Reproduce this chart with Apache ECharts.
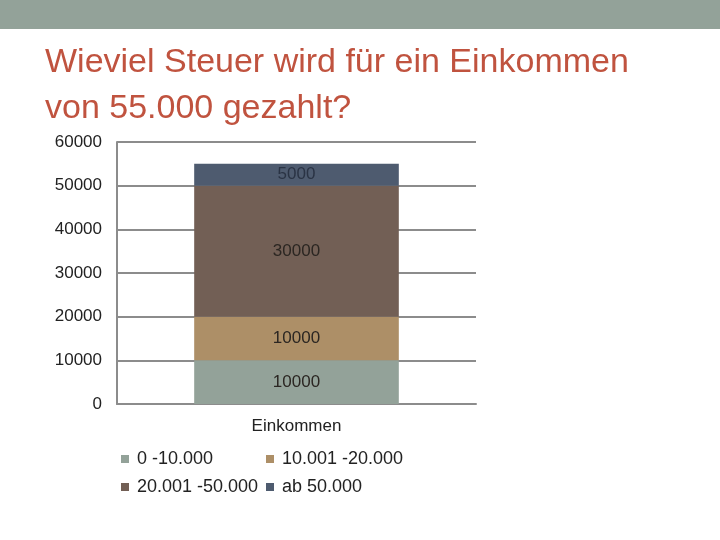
<!DOCTYPE html>
<html>
<head>
<meta charset="utf-8">
<script src="https://cdn.jsdelivr.net/npm/echarts@6/dist/echarts.min.js"></script>
<style>
  html, body { margin: 0; padding: 0; background: #fff; }
  #chart { width: 720px; height: 540px; }
</style>
</head>
<body>
<div id="chart"></div>
<script>
var categories = ['Einkommen'];
var bandNames = ['0 -10.000', '10.001 -20.000', '20.001 -50.000', 'ab 50.000'];
var bandValues = [10000, 10000, 30000, 5000];
var bandColors = ['#93a299', '#ad8f67', '#725f55', '#4e5b6f'];
var yTicks = [0, 10000, 20000, 30000, 40000, 50000, 60000];

var myChart = echarts.init(document.getElementById('chart'));

var series = bandNames.map(function (name, i) {
    return {
        name: name,
        type: 'bar',
        stack: 'steuer',
        barWidth: '57%',
        data: [bandValues[i]],
        itemStyle: { color: bandColors[i] },
        label: {
            show: true,
            position: 'inside',
            color: i === 3 ? '#2a3344' : '#2b2622',
            fontFamily: 'Liberation Sans, Arial',
            fontSize: 17
        }
    };
});

// legend placed like the slide: two columns, two rows
var legendPos = [[116, 445], [261, 445], [116, 473], [261, 473]];
var legends = bandNames.map(function (name, i) {
    return {
        data: [name],
        left: legendPos[i][0],
        top: legendPos[i][1],
        icon: 'rect',
        itemWidth: 8,
        itemHeight: 8,
        textStyle: {
            color: '#222',
            fontFamily: 'Liberation Sans, Arial',
            fontSize: 18,
            padding: [0, 0, 0, 3]
        }
    };
});

option = {
    animation: false,
    title: {
        text: 'Wieviel Steuer wird für ein Einkommen\nvon 55.000 gezahlt?',
        left: 40,
        top: 35,
        textStyle: {
            color: '#c0533f',
            fontFamily: 'Liberation Sans, Arial',
            fontWeight: 'normal',
            fontSize: 34,
            lineHeight: 46
        }
    },
    graphic: [{
        type: 'rect',
        shape: { x: 0, y: 0, width: 720, height: 29 },
        style: { fill: '#93a299' }
    }],
    legend: legends,
    grid: { left: 117, right: 244, top: 142, bottom: 136 },
    xAxis: {
        type: 'category',
        data: categories,
        axisLine: { lineStyle: { color: '#8c8c8c', width: 2 } },
        axisTick: { show: false },
        axisLabel: {
            color: '#222',
            fontFamily: 'Liberation Sans, Arial',
            fontSize: 17,
            margin: 14
        }
    },
    yAxis: {
        type: 'value',
        min: yTicks[0],
        max: yTicks[yTicks.length - 1],
        interval: 10000,
        axisLine: { show: true, lineStyle: { color: '#8c8c8c', width: 2 } },
        axisTick: { show: false },
        splitLine: { lineStyle: { color: '#8c8c8c', width: 2 } },
        axisLabel: {
            color: '#222',
            fontFamily: 'Liberation Sans, Arial',
            fontSize: 17,
            margin: 15,
            formatter: function (v) { return String(v); }
        }
    },
    series: series
};

myChart.setOption(option);
</script>
</body>
</html>
